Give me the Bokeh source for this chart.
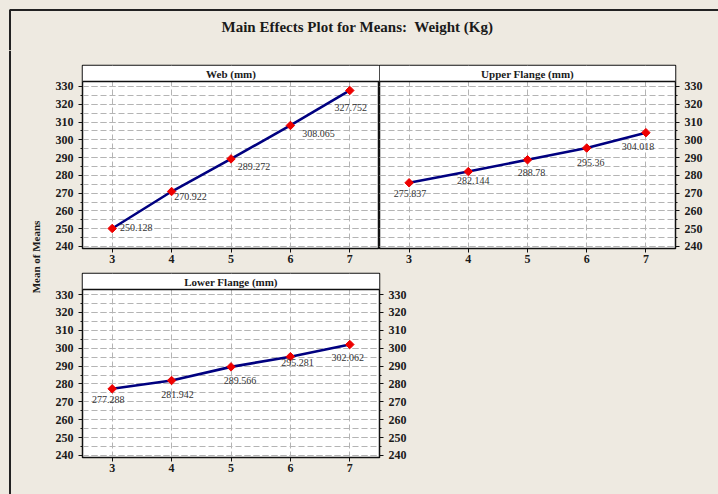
import math
from bokeh.plotting import figure
from bokeh.models import (Range1d, FixedTicker, LinearAxis, BoxAnnotation, Span,
                          Label, ColumnDataSource)
from bokeh.layouts import row, column
from bokeh.core.properties import value
from bokeh.embed import file_html
from bokeh.resources import INLINE

# ---------------- data ----------------
LEVELS = [3, 4, 5, 6, 7]
WEB_MEANS = [250.128, 270.922, 289.272, 308.065, 327.752]
UPPER_MEANS = [275.837, 282.144, 288.78, 295.36, 304.018]
LOWER_MEANS = [277.288, 281.942, 289.566, 295.281, 302.062]
PANEL_TITLES = ["Web (mm)", "Upper Flange (mm)", "Lower Flange (mm)"]
CHART_TITLE = "Main Effects Plot for Means:\u00a0 Weight (Kg)"
Y_TITLE = "Mean of Means"
Y_TICKS = list(range(240, 331, 10))
Y_MINOR = list(range(240, 331, 5))
X_TICKS = [3, 4, 5, 6, 7]

# ---------------- style ----------------
# label offsets in screen pixels (placement only)
WEB_DX = [24, 19, 23, 28, 1]
WEB_DY = [-1, 5, 8, 8, 17]
UP_DX = [1, 5, 4, 4, -8]
UP_DY = [11, 9, 13, 14, 14]
LO_DX = [-4, 6, 9, 7, -2]
LO_DY = [11, 14, 14, 6, 13]

BG = "#EEEAE1"
INK = "#111111"
FRAME = "#222222"
GRID = "#B4B4B4"
SERIF = "Liberation Serif"
Y_LO, Y_DATA_HI, Y_HI = 238.875, 332.8, 341.8
X_LO, X_HI = 2.5, 7.5
BOX_STYLE = {"background-color": BG}


def style_axis(ax, is_y):
    if is_y:
        ax.ticker = FixedTicker(ticks=Y_TICKS, minor_ticks=Y_MINOR)
        ax.major_label_standoff = 5
    else:
        ax.ticker = FixedTicker(ticks=X_TICKS, minor_ticks=[])
        ax.major_label_standoff = 2
    ax.axis_line_color = INK
    ax.axis_line_width = 1
    ax.major_tick_line_color = INK
    ax.minor_tick_line_color = INK
    ax.major_tick_in = 0
    ax.major_tick_out = 4
    ax.minor_tick_in = 0
    ax.minor_tick_out = 2
    ax.major_label_text_font = SERIF
    ax.major_label_text_font_style = "bold"
    ax.major_label_text_font_size = "12px"
    ax.major_label_text_color = "#1a1a1a"


def panel(title, means, dx, dy, yloc, extra_right, fw, fh, mbl, mbr, mbt, mbb):
    p = figure(frame_width=fw, frame_height=fh,
               x_range=Range1d(X_LO, X_HI), y_range=Range1d(Y_LO, Y_HI),
               toolbar_location=None, output_backend="svg", title=None,
               x_axis_location="below", y_axis_location=yloc,
               min_border_left=mbl, min_border_right=mbr,
               min_border_top=mbt, min_border_bottom=mbb)
    p.background_fill_color = "white"
    p.border_fill_color = BG
    p.outline_line_color = INK
    p.outline_line_width = 1.5

    for ax in p.xaxis:
        style_axis(ax, False)
    for ax in p.yaxis:
        style_axis(ax, True)
    if extra_right:
        rax = LinearAxis()
        style_axis(rax, True)
        p.add_layout(rax, "right")

    for g in p.xgrid:
        g.ticker = FixedTicker(ticks=X_TICKS, minor_ticks=[])
    for g in p.ygrid:
        g.ticker = FixedTicker(ticks=Y_TICKS, minor_ticks=Y_MINOR)
        g.minor_grid_line_color = GRID
        g.minor_grid_line_dash = "6 3"
        g.minor_grid_line_width = 1
    p.grid.grid_line_color = GRID
    p.grid.grid_line_dash = "6 3"
    p.grid.grid_line_width = 1

    # header strip
    p.add_layout(BoxAnnotation(left=X_LO, right=X_HI, bottom=Y_DATA_HI, top=Y_HI,
                               fill_color="white", fill_alpha=1.0, line_color=None))
    p.add_layout(Span(location=Y_DATA_HI, dimension="width", line_color=INK,
                      line_width=1.5))
    p.add_layout(Label(x=(X_LO + X_HI) / 2, y=(Y_DATA_HI + Y_HI) / 2, text=title,
                       text_align="center", text_baseline="middle",
                       text_font=SERIF, text_font_style="bold",
                       text_font_size="11px", text_color="#1a1a1a"))

    src = ColumnDataSource(dict(x=LEVELS, y=means,
                                label=[f"{v:g}" for v in means],
                                dx=dx, dy=dy))
    p.line("x", "y", source=src, line_color="#000080", line_width=2.6)
    p.scatter("x", "y", source=src, marker="square", angle=math.pi / 4, size=6,
              fill_color="#EE0000", line_color="#EE0000")
    p.text("x", "y", text="label", x_offset="dx", y_offset="dy", source=src,
           text_font=value(SERIF), text_font_size="10px", text_color="#333333",
           text_align="center", text_baseline="middle")
    return p


def blank(w, h):
    p = figure(width=w, height=h, x_range=Range1d(0, w), y_range=Range1d(0, h),
               toolbar_location=None, output_backend="svg", title=None,
               x_axis_location=None, y_axis_location=None, min_border=0)
    p.background_fill_color = BG
    p.border_fill_color = BG
    p.outline_line_color = None
    p.grid.grid_line_color = None
    return p


# title strip (page y 0..50): outer frame corner at (9.5, 9.5)
title_fig = blank(718, 50)
title_fig.add_layout(BoxAnnotation(left=9.5, right=740, bottom=-20, top=40.5,
                                   fill_alpha=0, line_color=FRAME, line_alpha=1.0,
                                   line_width=2))
title_fig.add_layout(Label(x=357, y=24, text=CHART_TITLE, text_align="center",
                           text_baseline="middle", text_font=SERIF,
                           text_font_style="bold", text_font_size="15px",
                           text_color="#1a1a1a"))

# y-title strip (page x 0..44, y 50..494)
ylab_fig = blank(44, 444)
ylab_fig.add_layout(Span(location=9.5, dimension="height", line_color=FRAME, line_width=2))
ylab_fig.add_layout(Label(x=35, y=237.5, text=Y_TITLE, angle=math.pi / 2,
                          text_align="center", text_baseline="middle",
                          text_font=SERIF, text_font_style="bold",
                          text_font_size="11px", text_color="#1a1a1a"))

pA = panel(PANEL_TITLES[0], WEB_MEANS, WEB_DX, WEB_DY, "left", False,
           297, 183, 38, 0, 15, 24)
pB = panel(PANEL_TITLES[1], UPPER_MEANS, UP_DX, UP_DY, "right", False,
           296, 183, 0, 43, 15, 24)
pC = panel(PANEL_TITLES[2], LOWER_MEANS, LO_DX, LO_DY, "left", True,
           297, 184, 38, 35, 1, 37)
spacer = blank(304, 222)

grid = column(row(pA, pB, styles=BOX_STYLE), row(pC, spacer, styles=BOX_STYLE),
              styles=BOX_STYLE)
layout = column(title_fig, row(ylab_fig, grid, styles=BOX_STYLE), styles=BOX_STYLE)

open("out.html", "w").write(file_html(layout, INLINE))
